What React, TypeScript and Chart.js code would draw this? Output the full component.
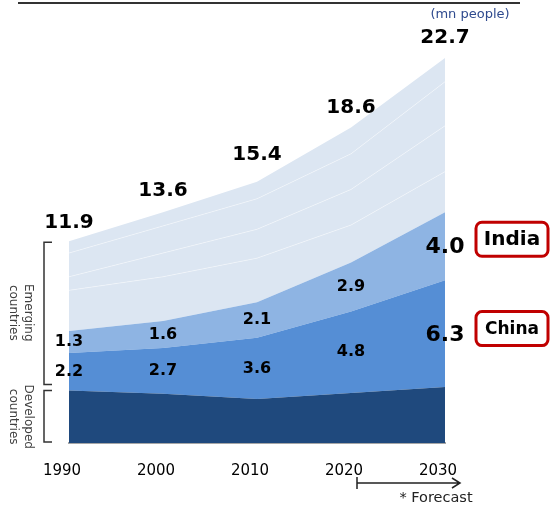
import React, { useEffect, useRef } from 'react';
import { Chart, registerables } from 'chart.js';

Chart.register(...registerables);

// ---- data (mn people) ----
const years = ['1990', '2000', '2010', '2020', '2030'];
const developed = [3.1, 2.9, 2.6, 2.95, 3.3];
const china = [2.2, 2.7, 3.6, 4.8, 6.3];
const india = [1.3, 1.6, 2.1, 2.9, 4.0];
// other emerging countries (sub-layers, same colour, thin white separators)
const othersA = [2.4, 2.6, 2.6, 2.2, 2.4];
const othersB = [0.8, 1.4, 1.7, 2.1, 2.7];
const othersC = [1.4, 1.6, 1.8, 2.1, 2.6];
const othersD = [0.7, 0.8, 1.0, 1.55, 1.4];
const totals = [11.9, 13.6, 15.4, 18.6, 22.7];

// ---- styles ----
const FONT = '"DejaVu Sans", Verdana, sans-serif';
const C_DEV = '#1F497D';
const C_CHINA = '#558ED5';
const C_INDIA = '#8EB4E3';
const C_OTHER = '#DCE6F2';
const totalLift = [18, 22, 27, 20, 20];

const overlay = {
  id: 'overlay',
  afterDraw(chart: any) {
    const ctx = chart.ctx as CanvasRenderingContext2D;
    const xs = chart.scales.x;
    const ys = chart.scales.y;
    ctx.save();

    // top rule
    ctx.strokeStyle = '#333';
    ctx.lineWidth = 2;
    ctx.beginPath();
    ctx.moveTo(18, 3);
    ctx.lineTo(520, 3);
    ctx.stroke();

    // unit
    ctx.fillStyle = '#2E4A8E';
    ctx.font = `13px ${FONT}`;
    ctx.textAlign = 'center';
    ctx.textBaseline = 'middle';
    ctx.fillText('(mn people)', 470, 15);

    // totals
    ctx.fillStyle = '#000';
    ctx.font = `bold 20px ${FONT}`;
    totals.forEach((t, i) => {
      ctx.fillText(t.toFixed(1), xs.getPixelForValue(i), ys.getPixelForValue(t) - totalLift[i]);
    });

    // China / India values
    years.forEach((_, i) => {
      const last = i === years.length - 1;
      ctx.font = last ? `bold 22px ${FONT}` : `bold 16px ${FONT}`;
      const px = xs.getPixelForValue(i);
      const cMid = ys.getPixelForValue(developed[i] + china[i] / 2);
      const iMid = ys.getPixelForValue(developed[i] + china[i] + india[i] / 2);
      ctx.fillText(china[i].toFixed(1), px, cMid + (last ? 2 : 0));
      ctx.fillText(india[i].toFixed(1), px, iMid + (last ? 1 : 0));
    });

    // country boxes
    const box = (label: string, cy: number, size: number) => {
      const bx = 476, bw = 72, bh = 34, r = 6;
      const by = cy - bh / 2;
      ctx.beginPath();
      ctx.roundRect(bx, by, bw, bh, r);
      ctx.fillStyle = '#fff';
      ctx.fill();
      ctx.lineWidth = 3;
      ctx.strokeStyle = '#C00000';
      ctx.stroke();
      ctx.fillStyle = '#000';
      ctx.font = `bold ${size}px ${FONT}`;
      ctx.textAlign = 'center';
      ctx.textBaseline = 'middle';
      ctx.fillText(label, bx + bw / 2, cy + 1);
    };
    const n = years.length - 1;
    box('India', ys.getPixelForValue(developed[n] + china[n] + india[n] / 2) - 7, 20);
    box('China', ys.getPixelForValue(developed[n] + china[n] / 2) - 5, 17);

    // brackets
    ctx.strokeStyle = '#333';
    ctx.lineWidth = 1.5;
    const bracket = (y1: number, y2: number) => {
      ctx.beginPath();
      ctx.moveTo(52, y1);
      ctx.lineTo(44, y1);
      ctx.lineTo(44, y2);
      ctx.lineTo(52, y2);
      ctx.stroke();
    };
    const devTop = ys.getPixelForValue(developed[0]);
    const base = ys.getPixelForValue(0);
    bracket(ys.getPixelForValue(totals[0]) + 1, devTop - 6);
    bracket(devTop, base - 1);

    const vtext = (l1: string, l2: string, cy: number) => {
      ctx.save();
      ctx.translate(21, cy);
      ctx.rotate(Math.PI / 2);
      ctx.fillStyle = '#404040';
      ctx.font = `12px ${FONT}`;
      ctx.textAlign = 'center';
      ctx.textBaseline = 'middle';
      ctx.fillText(l1, 0, -7);
      ctx.fillText(l2, 0, 8);
      ctx.restore();
    };
    vtext('Emerging', 'countries', (ys.getPixelForValue(totals[0]) + devTop - 6) / 2);
    vtext('Developed', 'countries', (devTop + base) / 2);

    // forecast arrow
    ctx.strokeStyle = '#222';
    ctx.lineWidth = 1.5;
    ctx.beginPath();
    ctx.moveTo(357, 477);
    ctx.lineTo(357, 489);
    ctx.moveTo(357, 483);
    ctx.lineTo(460, 483);
    ctx.moveTo(452, 478);
    ctx.lineTo(460, 483);
    ctx.lineTo(452, 488);
    ctx.stroke();
    ctx.fillStyle = '#222';
    ctx.font = `14.5px ${FONT}`;
    ctx.textAlign = 'center';
    ctx.textBaseline = 'middle';
    ctx.fillText('* Forecast', 436, 498);

    ctx.restore();
  },
};

export default function App() {
  const ref = useRef<HTMLCanvasElement | null>(null);

  useEffect(() => {
    if (!ref.current) return;
    const sep = 'rgba(255,255,255,0.4)';
    const ds = (label: string, data: number[], color: string, border = 0, fill: any = '-1') => ({
      label,
      data,
      backgroundColor: color,
      borderColor: border ? sep : color,
      borderWidth: border,
      fill,
      pointRadius: 0,
      tension: 0,
    });
    const chart = new Chart(ref.current, {
      type: 'line',
      data: {
        labels: years,
        datasets: [
          ds('Developed countries', developed, C_DEV, 0, 'origin'),
          ds('China', china, C_CHINA),
          ds('India', india, C_INDIA),
          ds('Other emerging A', othersA, C_OTHER, 1),
          ds('Other emerging B', othersB, C_OTHER, 1),
          ds('Other emerging C', othersC, C_OTHER, 1),
          ds('Other emerging D', othersD, C_OTHER),
        ],
      },
      options: {
        animation: false,
        responsive: false,
        devicePixelRatio: 1,
        layout: { padding: { left: 69, right: 105, top: 19, bottom: 18 } },
        plugins: { legend: { display: false }, tooltip: { enabled: false } },
        elements: { line: { borderJoinStyle: 'round' } },
        scales: {
          x: {
            type: 'category',
            offset: false,
            grid: { display: false, drawTicks: false },
            border: { display: true, color: '#A6A6A6', width: 2 },
            ticks: {
              color: '#000',
              font: { family: FONT, size: 15 },
              padding: 19,
              labelOffset: -7,
              maxRotation: 0,
              autoSkip: false,
            },
            afterFit: (s: any) => {
              s.height = 45;
            },
          },
          y: {
            display: false,
            stacked: true,
            min: 0,
            max: 25,
          },
        },
      },
      plugins: [overlay],
    });
    return () => chart.destroy();
  }, []);

  return (
    <div style={{ position: 'absolute', left: 0, top: 0, width: 550, height: 506 }}>
      <canvas ref={ref} width={550} height={506} style={{ display: 'block' }} />
    </div>
  );
}
